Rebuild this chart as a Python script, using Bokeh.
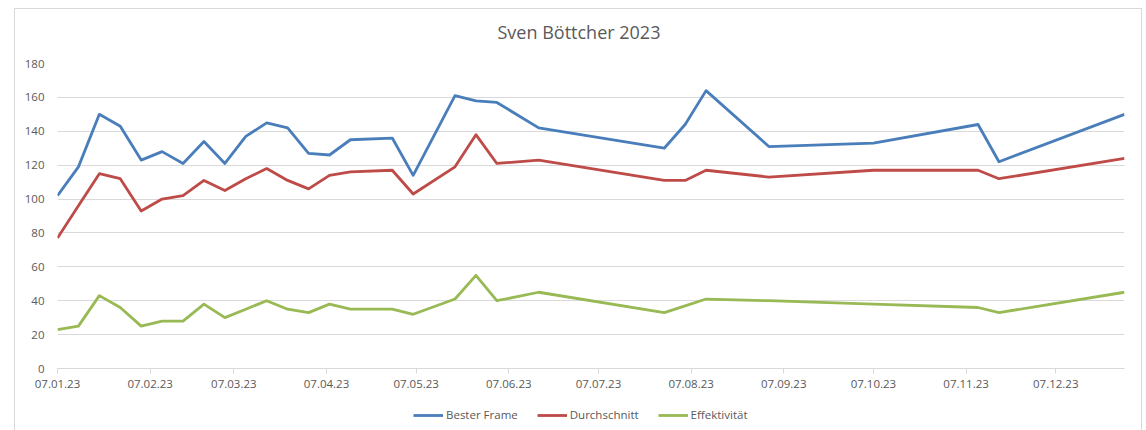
import pandas as pd
from bokeh.plotting import figure
from bokeh.layouts import column
from bokeh.models import (Range1d, FixedTicker, DatetimeTickFormatter, Legend, LegendItem,
                          ColumnDataSource)
from bokeh.embed import file_html
from bokeh.resources import INLINE

# ---- data ----
dates = ["2023-01-07", "2023-01-14", "2023-01-21", "2023-01-28", "2023-02-04", "2023-02-11",
         "2023-02-18", "2023-02-25", "2023-03-04", "2023-03-11", "2023-03-18", "2023-03-25",
         "2023-04-01", "2023-04-08", "2023-04-15", "2023-04-29", "2023-05-06", "2023-05-20",
         "2023-05-27", "2023-06-03", "2023-06-17", "2023-07-29", "2023-08-05", "2023-08-12",
         "2023-09-02", "2023-10-07", "2023-11-11", "2023-11-18", "2023-12-30"]
bester_frame = [102, 119, 150, 143, 123, 128, 121, 134, 121, 137, 145, 142, 127, 126, 135,
                136, 114, 161, 158, 157, 142, 130, 144, 164, 131, 133, 144, 122, 150]
durchschnitt = [77, 96, 115, 112, 93, 100, 102, 111, 105, 112, 118, 111, 106, 114, 116,
                117, 103, 119, 138, 121, 123, 111, 111, 117, 113, 117, 117, 112, 124]
effektivitaet = [23, 25, 43, 36, 25, 28, 28, 38, 30, 35, 40, 35, 33, 38, 35,
                 35, 32, 41, 55, 40, 45, 33, 37, 41, 40, 38, 36, 33, 45]
series_names = ["Bester Frame", "Durchschnitt", "Effektivität"]
tick_dates = ["2023-%02d-07" % m for m in range(1, 13)]
y_ticks = [0, 20, 40, 60, 80, 100, 120, 140, 160, 180]
title_text = "Sven Böttcher 2023"

colors = ["#4A7EBB", "#BE4B48", "#98B954"]
FONT = "Open Sans"
TXT = "#595959"
GRID = "#D9D9D9"
LW = 2.8
W = 1126
BL, BR = 42, 17

x = pd.to_datetime(dates)
src = ColumnDataSource(dict(x=x, a=bester_frame, b=durchschnitt, c=effektivitaet))
cols = ["a", "b", "c"]

# ---- title strip ----
tf = figure(width=W, height=40, output_backend="svg", toolbar_location=None,
            x_axis_location=None, y_axis_location=None,
            min_border_left=BL, min_border_right=BR, min_border_top=39, min_border_bottom=0)
tf.outline_line_color = None
tf.grid.grid_line_color = None
tf.title.text = title_text
tf.title.align = "left"
tf.title.offset = 440
tf.title.text_font = FONT
tf.title.text_font_size = "18px"
tf.title.text_font_style = "normal"
tf.title.text_color = TXT

# ---- main chart ----
p = figure(width=W, height=349, output_backend="svg", toolbar_location=None,
           x_axis_type="datetime",
           x_range=Range1d(x[0], x[-1]), y_range=Range1d(0, 180),
           min_border_left=BL, min_border_right=BR, min_border_top=14, min_border_bottom=30)
p.outline_line_color = None
p.background_fill_color = "white"
p.border_fill_color = "white"

for col, c in zip(cols, colors):
    p.line("x", col, source=src, line_color=c, line_width=LW, line_join="round")

xa = p.xaxis[0]
xa.ticker = FixedTicker(ticks=[pd.Timestamp(d).value / 1e6 for d in tick_dates])
fmt = "%d.%m.%y"
xa.formatter = DatetimeTickFormatter(days=fmt, months=fmt, years=fmt, hours=fmt,
                                     hourmin=fmt, minutes=fmt, minsec=fmt, seconds=fmt,
                                     milliseconds=fmt, microseconds=fmt)
xa.axis_line_color = GRID
xa.major_tick_line_color = GRID
xa.major_tick_out = 5
xa.major_tick_in = 0
xa.minor_tick_line_color = None
xa.major_label_text_font = FONT
xa.major_label_text_font_size = "11.5px"
xa.major_label_text_color = TXT
xa.major_label_standoff = 6

ya = p.yaxis[0]
ya.ticker = FixedTicker(ticks=y_ticks)
ya.axis_line_color = None
ya.major_tick_line_color = None
ya.major_tick_out = 0
ya.major_tick_in = 0
ya.minor_tick_line_color = None
ya.major_label_text_font = FONT
ya.major_label_text_font_size = "11.5px"
ya.major_label_text_color = TXT
ya.major_label_standoff = 13

p.xgrid.grid_line_color = None
p.ygrid.ticker = FixedTicker(ticks=y_ticks)
p.ygrid.grid_line_color = GRID
p.ygrid.grid_line_width = 1

# ---- legend strip below the chart ----
lg = figure(width=W, height=32, output_backend="svg", toolbar_location=None,
            x_axis_location=None, y_axis_location=None,
            x_range=Range1d(x[0], x[-1]), y_range=Range1d(-20, -10),
            min_border_left=BL, min_border_right=BR, min_border_top=0, min_border_bottom=0)
lg.outline_line_color = None
lg.grid.grid_line_color = None
leg_renderers = [lg.line("x", col, source=src, line_color=c, line_width=LW)
                 for col, c in zip(cols, colors)]
legend = Legend(items=[LegendItem(label=n, renderers=[r]) for n, r in zip(series_names, leg_renderers)],
                orientation="horizontal", location=(356, 8))
legend.glyph_width = 30
legend.glyph_height = 12
legend.label_standoff = 3
legend.spacing = 19
legend.padding = 0
legend.margin = 0
legend.border_line_color = None
legend.background_fill_alpha = 0
legend.label_text_font = FONT
legend.label_text_font_size = "11.5px"
legend.label_text_color = TXT
lg.add_layout(legend, "center")

layout = column(tf, p, lg, spacing=0,
                styles={"margin-left": "14px", "margin-top": "8px",
                        "border-top": "1px solid #D9D9D9",
                        "border-left": "1px solid #D9D9D9",
                        "border-right": "1px solid #D9D9D9"})

open("out.html", "w").write(file_html(layout, INLINE))
